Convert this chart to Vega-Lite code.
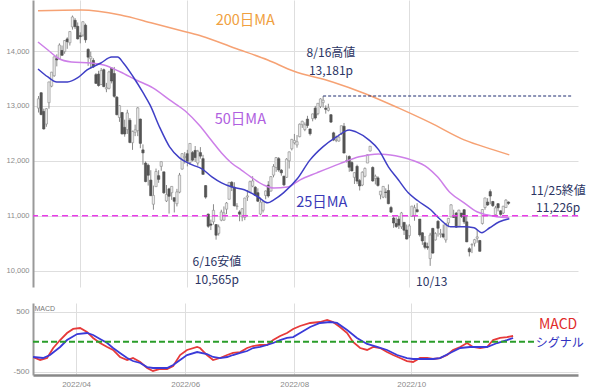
{
  "$schema": "https://vega.github.io/schema/vega-lite/v6.json",
  "padding": {"left": 6, "top": 0, "right": 0, "bottom": 0},
  "background": "white",
  "bounds": "flush",
  "spacing": 16,
  "config": {
    "view": {"stroke": null},
    "axis": {"labelFont": "Liberation Sans", "labelColor": "#8a8a8a", "gridColor": "#dedede", "gridWidth": 1, "ticks": false, "tickSize": 0, "domainColor": "#999999", "domainWidth": 2},
    "text": {"font": "Noto Sans CJK JP"}
  },
  "datasets": {
    "candles": [
      {"d":"2022-03-10","i":-16,"o":12960,"h":13180,"l":12880,"c":13130},
      {"d":"2022-03-11","i":-15,"o":13240,"h":13250,"l":12830,"c":12843},
      {"d":"2022-03-14","i":-14,"o":12900,"h":12950,"l":12570,"c":12581},
      {"d":"2022-03-15","i":-13,"o":12670,"h":12960,"l":12620,"c":12949},
      {"d":"2022-03-16","i":-12,"o":13060,"h":13440,"l":12950,"c":13437},
      {"d":"2022-03-17","i":-11,"o":13360,"h":13620,"l":13340,"c":13615},
      {"d":"2022-03-18","i":-10,"o":13550,"h":13900,"l":13530,"c":13894},
      {"d":"2022-03-21","i":-9,"o":13860,"h":13940,"l":13720,"c":13838},
      {"d":"2022-03-22","i":-8,"o":13860,"h":14140,"l":13850,"c":14109},
      {"d":"2022-03-23","i":-7,"o":14010,"h":14100,"l":13910,"c":13923},
      {"d":"2022-03-24","i":-6,"o":13990,"h":14200,"l":13950,"c":14191},
      {"d":"2022-03-25","i":-5,"o":14220,"h":14250,"l":14040,"c":14169},
      {"d":"2022-03-28","i":-4,"o":14150,"h":14360,"l":14100,"c":14354},
      {"d":"2022-03-29","i":-3,"o":14440,"h":14646,"l":14390,"c":14620},
      {"d":"2022-03-30","i":-2,"o":14560,"h":14600,"l":14400,"c":14443},
      {"d":"2022-03-31","i":-1,"o":14450,"h":14520,"l":14210,"c":14221},
      {"d":"2022-04-01","i":0,"o":14280,"h":14340,"l":14140,"c":14262},
      {"d":"2022-04-04","i":1,"o":14290,"h":14540,"l":14260,"c":14533},
      {"d":"2022-04-05","i":2,"o":14470,"h":14500,"l":14150,"c":14204},
      {"d":"2022-04-06","i":3,"o":14030,"h":14050,"l":13730,"c":13888},
      {"d":"2022-04-07","i":4,"o":13860,"h":13990,"l":13680,"c":13897},
      {"d":"2022-04-08","i":5,"o":13830,"h":13870,"l":13690,"c":13711},
      {"d":"2022-04-11","i":6,"o":13570,"h":13600,"l":13400,"c":13411},
      {"d":"2022-04-12","i":7,"o":13580,"h":13640,"l":13350,"c":13372},
      {"d":"2022-04-13","i":8,"o":13390,"h":13690,"l":13380,"c":13644},
      {"d":"2022-04-14","i":9,"o":13660,"h":13680,"l":13340,"c":13352},
      {"d":"2022-04-18","i":10,"o":13310,"h":13420,"l":13250,"c":13333},
      {"d":"2022-04-19","i":11,"o":13320,"h":13640,"l":13300,"c":13619},
      {"d":"2022-04-20","i":12,"o":13690,"h":13700,"l":13410,"c":13454},
      {"d":"2022-04-21","i":13,"o":13590,"h":13710,"l":13150,"c":13175},
      {"d":"2022-04-22","i":14,"o":13160,"h":13180,"l":12830,"c":12840},
      {"d":"2022-04-25","i":15,"o":12790,"h":13010,"l":12710,"c":13005},
      {"d":"2022-04-26","i":16,"o":12880,"h":12890,"l":12480,"c":12491},
      {"d":"2022-04-27","i":17,"o":12610,"h":12750,"l":12440,"c":12489},
      {"d":"2022-04-28","i":18,"o":12570,"h":12930,"l":12490,"c":12872},
      {"d":"2022-04-29","i":19,"o":12740,"h":12780,"l":12320,"c":12335},
      {"d":"2022-05-02","i":20,"o":12330,"h":12550,"l":12200,"c":12536},
      {"d":"2022-05-03","i":21,"o":12520,"h":12660,"l":12450,"c":12564},
      {"d":"2022-05-04","i":22,"o":12550,"h":12980,"l":12450,"c":12965},
      {"d":"2022-05-05","i":23,"o":12760,"h":12770,"l":12230,"c":12318},
      {"d":"2022-05-06","i":24,"o":12200,"h":12300,"l":11930,"c":12145},
      {"d":"2022-05-09","i":25,"o":11960,"h":11990,"l":11610,"c":11623},
      {"d":"2022-05-10","i":26,"o":11920,"h":11950,"l":11550,"c":11738},
      {"d":"2022-05-11","i":27,"o":11650,"h":11830,"l":11360,"c":11365},
      {"d":"2022-05-12","i":28,"o":11210,"h":11550,"l":11110,"c":11371},
      {"d":"2022-05-13","i":29,"o":11530,"h":11860,"l":11530,"c":11806},
      {"d":"2022-05-16","i":30,"o":11730,"h":11830,"l":11600,"c":11663},
      {"d":"2022-05-17","i":31,"o":11900,"h":11990,"l":11820,"c":11985},
      {"d":"2022-05-18","i":32,"o":11800,"h":11800,"l":11400,"c":11418},
      {"d":"2022-05-19","i":33,"o":11270,"h":11560,"l":11250,"c":11389},
      {"d":"2022-05-20","i":34,"o":11490,"h":11510,"l":11040,"c":11355},
      {"d":"2022-05-23","i":35,"o":11420,"h":11540,"l":11290,"c":11535},
      {"d":"2022-05-24","i":36,"o":11330,"h":11330,"l":11060,"c":11264},
      {"d":"2022-05-25","i":37,"o":11220,"h":11490,"l":11170,"c":11435},
      {"d":"2022-05-26","i":38,"o":11430,"h":11780,"l":11410,"c":11741},
      {"d":"2022-05-27","i":39,"o":11850,"h":12140,"l":11840,"c":12131},
      {"d":"2022-05-31","i":40,"o":12060,"h":12160,"l":11950,"c":12081},
      {"d":"2022-06-01","i":41,"o":12130,"h":12200,"l":11900,"c":11994},
      {"d":"2022-06-02","i":42,"o":11970,"h":12320,"l":11930,"c":12317},
      {"d":"2022-06-03","i":43,"o":12150,"h":12180,"l":11990,"c":12013},
      {"d":"2022-06-06","i":44,"o":12190,"h":12270,"l":11980,"c":12061},
      {"d":"2022-06-07","i":45,"o":11960,"h":12200,"l":11910,"c":12176},
      {"d":"2022-06-08","i":46,"o":12150,"h":12250,"l":12040,"c":12086},
      {"d":"2022-06-09","i":47,"o":12040,"h":12110,"l":11750,"c":11754},
      {"d":"2022-06-10","i":48,"o":11550,"h":11560,"l":11310,"c":11340},
      {"d":"2022-06-13","i":49,"o":11030,"h":11040,"l":10780,"c":10809},
      {"d":"2022-06-14","i":50,"o":10850,"h":10930,"l":10740,"c":10829},
      {"d":"2022-06-15","i":51,"o":10890,"h":11210,"l":10840,"c":11099},
      {"d":"2022-06-16","i":52,"o":10840,"h":10850,"l":10565,"c":10646},
      {"d":"2022-06-17","i":53,"o":10680,"h":10840,"l":10640,"c":10798},
      {"d":"2022-06-21","i":54,"o":10920,"h":11110,"l":10900,"c":11069},
      {"d":"2022-06-22","i":55,"o":10920,"h":11170,"l":10910,"c":11053},
      {"d":"2022-06-23","i":56,"o":11120,"h":11250,"l":11030,"c":11232},
      {"d":"2022-06-24","i":57,"o":11300,"h":11610,"l":11300,"c":11608},
      {"d":"2022-06-27","i":58,"o":11610,"h":11630,"l":11450,"c":11524},
      {"d":"2022-06-28","i":59,"o":11520,"h":11610,"l":11170,"c":11182},
      {"d":"2022-06-29","i":60,"o":11170,"h":11230,"l":11110,"c":11178},
      {"d":"2022-06-30","i":61,"o":11070,"h":11100,"l":10900,"c":11029},
      {"d":"2022-07-01","i":62,"o":10980,"h":11140,"l":10900,"c":11128},
      {"d":"2022-07-05","i":63,"o":10970,"h":11330,"l":10920,"c":11322},
      {"d":"2022-07-06","i":64,"o":11340,"h":11470,"l":11270,"c":11362},
      {"d":"2022-07-07","i":65,"o":11430,"h":11640,"l":11420,"c":11621},
      {"d":"2022-07-08","i":66,"o":11540,"h":11720,"l":11520,"c":11635},
      {"d":"2022-07-11","i":67,"o":11520,"h":11540,"l":11360,"c":11373},
      {"d":"2022-07-12","i":68,"o":11420,"h":11500,"l":11250,"c":11265},
      {"d":"2022-07-13","i":69,"o":11030,"h":11330,"l":11010,"c":11248},
      {"d":"2022-07-14","i":70,"o":11100,"h":11270,"l":11060,"c":11252},
      {"d":"2022-07-15","i":71,"o":11370,"h":11460,"l":11300,"c":11452},
      {"d":"2022-07-18","i":72,"o":11560,"h":11630,"l":11330,"c":11360},
      {"d":"2022-07-19","i":73,"o":11450,"h":11720,"l":11440,"c":11713},
      {"d":"2022-07-20","i":74,"o":11740,"h":11940,"l":11700,"c":11898},
      {"d":"2022-07-21","i":75,"o":11880,"h":12070,"l":11800,"c":12060},
      {"d":"2022-07-22","i":76,"o":12040,"h":12070,"l":11800,"c":11834},
      {"d":"2022-07-25","i":77,"o":11830,"h":11850,"l":11730,"c":11782},
      {"d":"2022-07-26","i":78,"o":11720,"h":11730,"l":11540,"c":11563},
      {"d":"2022-07-27","i":79,"o":11700,"h":12050,"l":11690,"c":12032},
      {"d":"2022-07-28","i":80,"o":12000,"h":12170,"l":11860,"c":12163},
      {"d":"2022-07-29","i":81,"o":12220,"h":12400,"l":12190,"c":12391},
      {"d":"2022-08-01","i":82,"o":12330,"h":12490,"l":12300,"c":12369},
      {"d":"2022-08-02","i":83,"o":12290,"h":12470,"l":12240,"c":12349},
      {"d":"2022-08-03","i":84,"o":12440,"h":12680,"l":12430,"c":12668},
      {"d":"2022-08-04","i":85,"o":12660,"h":12730,"l":12600,"c":12721},
      {"d":"2022-08-05","i":86,"o":12570,"h":12700,"l":12540,"c":12657},
      {"d":"2022-08-08","i":87,"o":12760,"h":12820,"l":12600,"c":12645},
      {"d":"2022-08-09","i":88,"o":12580,"h":12590,"l":12460,"c":12493},
      {"d":"2022-08-10","i":89,"o":12770,"h":12860,"l":12720,"c":12855},
      {"d":"2022-08-11","i":90,"o":12960,"h":13000,"l":12750,"c":12780},
      {"d":"2022-08-12","i":91,"o":12860,"h":13050,"l":12830,"c":13048},
      {"d":"2022-08-15","i":92,"o":12990,"h":13140,"l":12960,"c":13128},
      {"d":"2022-08-16","i":93,"o":13060,"h":13181,"l":12970,"c":13103},
      {"d":"2022-08-17","i":94,"o":12960,"h":13010,"l":12860,"c":12938},
      {"d":"2022-08-18","i":95,"o":12920,"h":13040,"l":12900,"c":12966},
      {"d":"2022-08-19","i":96,"o":12840,"h":12850,"l":12690,"c":12706},
      {"d":"2022-08-22","i":97,"o":12510,"h":12530,"l":12360,"c":12381},
      {"d":"2022-08-23","i":98,"o":12370,"h":12460,"l":12340,"c":12381},
      {"d":"2022-08-24","i":99,"o":12360,"h":12480,"l":12350,"c":12432},
      {"d":"2022-08-25","i":100,"o":12500,"h":12640,"l":12470,"c":12640},
      {"d":"2022-08-26","i":101,"o":12630,"h":12690,"l":12140,"c":12142},
      {"d":"2022-08-29","i":102,"o":12000,"h":12100,"l":11970,"c":11999},
      {"d":"2022-08-30","i":103,"o":12080,"h":12100,"l":11800,"c":11884},
      {"d":"2022-08-31","i":104,"o":11970,"h":12000,"l":11810,"c":11816},
      {"d":"2022-09-01","i":105,"o":11700,"h":11790,"l":11580,"c":11785},
      {"d":"2022-09-02","i":106,"o":11900,"h":11930,"l":11580,"c":11631},
      {"d":"2022-09-06","i":107,"o":11640,"h":11670,"l":11460,"c":11544},
      {"d":"2022-09-07","i":108,"o":11560,"h":11810,"l":11540,"c":11792},
      {"d":"2022-09-08","i":109,"o":11720,"h":11880,"l":11700,"c":11862},
      {"d":"2022-09-09","i":110,"o":11960,"h":12120,"l":11960,"c":12112},
      {"d":"2022-09-12","i":111,"o":12180,"h":12270,"l":12170,"c":12266},
      {"d":"2022-09-13","i":112,"o":11880,"h":11900,"l":11620,"c":11634},
      {"d":"2022-09-14","i":113,"o":11680,"h":11750,"l":11570,"c":11720},
      {"d":"2022-09-15","i":114,"o":11690,"h":11720,"l":11530,"c":11552},
      {"d":"2022-09-16","i":115,"o":11380,"h":11450,"l":11300,"c":11448},
      {"d":"2022-09-19","i":116,"o":11340,"h":11540,"l":11320,"c":11535},
      {"d":"2022-09-20","i":117,"o":11430,"h":11500,"l":11320,"c":11425},
      {"d":"2022-09-21","i":118,"o":11460,"h":11570,"l":11210,"c":11220},
      {"d":"2022-09-22","i":119,"o":11150,"h":11180,"l":11050,"c":11067},
      {"d":"2022-09-23","i":120,"o":10960,"h":10990,"l":10780,"c":10868},
      {"d":"2022-09-26","i":121,"o":10860,"h":10970,"l":10780,"c":10803},
      {"d":"2022-09-27","i":122,"o":10940,"h":11000,"l":10760,"c":10829},
      {"d":"2022-09-28","i":123,"o":10800,"h":11070,"l":10760,"c":11052},
      {"d":"2022-09-29","i":124,"o":10880,"h":10880,"l":10650,"c":10737},
      {"d":"2022-09-30","i":125,"o":10740,"h":10840,"l":10570,"c":10576},
      {"d":"2022-10-03","i":126,"o":10640,"h":10850,"l":10600,"c":10815},
      {"d":"2022-10-04","i":127,"o":10990,"h":11180,"l":10980,"c":11176},
      {"d":"2022-10-05","i":128,"o":11000,"h":11200,"l":10910,"c":11148},
      {"d":"2022-10-06","i":129,"o":11110,"h":11230,"l":11060,"c":11074},
      {"d":"2022-10-07","i":130,"o":10940,"h":10940,"l":10620,"c":10652},
      {"d":"2022-10-10","i":131,"o":10690,"h":10700,"l":10470,"c":10542},
      {"d":"2022-10-11","i":132,"o":10510,"h":10630,"l":10390,"c":10426},
      {"d":"2022-10-12","i":133,"o":10440,"h":10510,"l":10380,"c":10417},
      {"d":"2022-10-13","i":134,"o":10220,"h":10690,"l":10088,"c":10649},
      {"d":"2022-10-14","i":135,"o":10770,"h":10780,"l":10310,"c":10321},
      {"d":"2022-10-17","i":136,"o":10560,"h":10700,"l":10550,"c":10675},
      {"d":"2022-10-18","i":137,"o":10900,"h":10920,"l":10620,"c":10773},
      {"d":"2022-10-19","i":138,"o":10660,"h":10760,"l":10600,"c":10680},
      {"d":"2022-10-20","i":139,"o":10670,"h":10840,"l":10590,"c":10615},
      {"d":"2022-10-21","i":140,"o":10560,"h":10870,"l":10510,"c":10860},
      {"d":"2022-10-24","i":141,"o":10870,"h":10960,"l":10790,"c":10953},
      {"d":"2022-10-25","i":142,"o":10980,"h":11210,"l":10970,"c":11199},
      {"d":"2022-10-26","i":143,"o":10980,"h":11110,"l":10960,"c":10971},
      {"d":"2022-10-27","i":144,"o":11050,"h":11070,"l":10780,"c":10792},
      {"d":"2022-10-28","i":145,"o":10810,"h":11110,"l":10790,"c":11102},
      {"d":"2022-10-31","i":146,"o":11050,"h":11050,"l":10960,"c":10988},
      {"d":"2022-11-01","i":147,"o":11110,"h":11120,"l":10850,"c":10890},
      {"d":"2022-11-02","i":148,"o":10890,"h":11000,"l":10520,"c":10525},
      {"d":"2022-11-03","i":149,"o":10400,"h":10430,"l":10260,"c":10343},
      {"d":"2022-11-04","i":150,"o":10470,"h":10500,"l":10320,"c":10475},
      {"d":"2022-11-07","i":151,"o":10500,"h":10580,"l":10440,"c":10565},
      {"d":"2022-11-08","i":152,"o":10590,"h":10740,"l":10510,"c":10616},
      {"d":"2022-11-09","i":153,"o":10550,"h":10560,"l":10350,"c":10353},
      {"d":"2022-11-10","i":154,"o":10860,"h":11120,"l":10840,"c":11114},
      {"d":"2022-11-11","i":155,"o":11150,"h":11330,"l":11110,"c":11324},
      {"d":"2022-11-14","i":156,"o":11250,"h":11320,"l":11180,"c":11196},
      {"d":"2022-11-15","i":157,"o":11440,"h":11480,"l":11210,"c":11359},
      {"d":"2022-11-16","i":158,"o":11260,"h":11270,"l":11160,"c":11184},
      {"d":"2022-11-17","i":159,"o":11020,"h":11180,"l":11000,"c":11144},
      {"d":"2022-11-18","i":160,"o":11220,"h":11230,"l":11080,"c":11146},
      {"d":"2022-11-21","i":161,"o":11090,"h":11100,"l":11000,"c":11025},
      {"d":"2022-11-22","i":162,"o":11050,"h":11180,"l":11030,"c":11174},
      {"d":"2022-11-23","i":163,"o":11150,"h":11300,"l":11150,"c":11285},
      {"d":"2022-11-25","i":164,"o":11250,"h":11260,"l":11200,"c":11226}
    ],
    "ma": [
      {"s":"m200","i":-16.2,"v":14733},{"s":"m200","i":0.4,"v":14745},{"s":"m200","i":15.4,"v":14654},{"s":"m200","i":27.8,"v":14504},{"s":"m200","i":40.2,"v":14351},{"s":"m200","i":46.6,"v":14270},{"s":"m200","i":59.0,"v":14055},{"s":"m200","i":71.8,"v":13836},{"s":"m200","i":81.6,"v":13636},{"s":"m200","i":96.6,"v":13436},{"s":"m200","i":109.4,"v":13218},{"s":"m200","i":121.8,"v":12964},{"s":"m200","i":134.2,"v":12691},{"s":"m200","i":147.0,"v":12382},{"s":"m200","i":158.3,"v":12200},{"s":"m200","i":164.3,"v":12109},
      {"s":"m50","i":-16.2,"v":14164},{"s":"m50","i":-12.4,"v":14018},{"s":"m50","i":-8.6,"v":13873},{"s":"m50","i":-3.4,"v":13800},{"s":"m50","i":4.1,"v":13782},{"s":"m50","i":9.0,"v":13745},{"s":"m50","i":15.4,"v":13618},{"s":"m50","i":21.4,"v":13473},{"s":"m50","i":27.8,"v":13327},{"s":"m50","i":34.2,"v":13109},{"s":"m50","i":40.2,"v":12907},{"s":"m50","i":45.5,"v":12652},{"s":"m50","i":50.4,"v":12361},{"s":"m50","i":54.1,"v":12142},{"s":"m50","i":57.9,"v":11960},{"s":"m50","i":61.7,"v":11832},{"s":"m50","i":65.4,"v":11705},{"s":"m50","i":70.3,"v":11559},{"s":"m50","i":74.1,"v":11504},{"s":"m50","i":79.3,"v":11523},{"s":"m50","i":84.2,"v":11655},{"s":"m50","i":90.6,"v":11782},{"s":"m50","i":99.2,"v":11945},{"s":"m50","i":106.8,"v":12073},{"s":"m50","i":114.3,"v":12127},{"s":"m50","i":120.7,"v":12091},{"s":"m50","i":126.7,"v":12018},{"s":"m50","i":133.1,"v":11873},{"s":"m50","i":136.8,"v":11709},{"s":"m50","i":141.7,"v":11418},{"s":"m50","i":147.0,"v":11236},{"s":"m50","i":151.9,"v":11073},{"s":"m50","i":155.6,"v":11018},{"s":"m50","i":159.4,"v":10982},{"s":"m50","i":164.3,"v":10964},
      {"s":"m25","i":-16.2,"v":13673},{"s":"m25","i":-12.4,"v":13527},{"s":"m25","i":-9.0,"v":13436},{"s":"m25","i":-4.9,"v":13436},{"s":"m25","i":-1.1,"v":13509},{"s":"m25","i":2.6,"v":13655},{"s":"m25","i":7.9,"v":13782},{"s":"m25","i":12.0,"v":13891},{"s":"m25","i":14.3,"v":13891},{"s":"m25","i":16.5,"v":13782},{"s":"m25","i":20.3,"v":13527},{"s":"m25","i":24.1,"v":13236},{"s":"m25","i":26.7,"v":13018},{"s":"m25","i":30.5,"v":12600},{"s":"m25","i":34.2,"v":12255},{"s":"m25","i":38.0,"v":12055},{"s":"m25","i":42.9,"v":11927},{"s":"m25","i":46.6,"v":11855},{"s":"m25","i":50.4,"v":11709},{"s":"m25","i":54.1,"v":11600},{"s":"m25","i":57.9,"v":11527},{"s":"m25","i":62.8,"v":11473},{"s":"m25","i":68.0,"v":11346},{"s":"m25","i":71.8,"v":11236},{"s":"m25","i":74.1,"v":11291},{"s":"m25","i":77.8,"v":11418},{"s":"m25","i":83.1,"v":11673},{"s":"m25","i":88.0,"v":12018},{"s":"m25","i":92.9,"v":12255},{"s":"m25","i":98.1,"v":12436},{"s":"m25","i":103.0,"v":12564},{"s":"m25","i":105.6,"v":12527},{"s":"m25","i":110.5,"v":12382},{"s":"m25","i":114.3,"v":12200},{"s":"m25","i":118.0,"v":11891},{"s":"m25","i":121.8,"v":11655},{"s":"m25","i":125.6,"v":11418},{"s":"m25","i":129.3,"v":11273},{"s":"m25","i":134.2,"v":11109},{"s":"m25","i":138.0,"v":10927},{"s":"m25","i":141.7,"v":10800},{"s":"m25","i":147.0,"v":10800},{"s":"m25","i":150.8,"v":10782},{"s":"m25","i":153.8,"v":10691},{"s":"m25","i":156.8,"v":10782},{"s":"m25","i":160.5,"v":10891},{"s":"m25","i":164.3,"v":10946}
    ],
    "malabels": [
      {"t":"200日MA","i":63.2,"v":14546},
      {"t":"50日MA","i":61.3,"v":12743},
      {"t":"25日MA","i":92.5,"v":11231}
    ],
    "notes": [
      {"t":"8/16高値\n13,181p","i":96.0,"v":13964},
      {"t":"6/16安値\n10,565p","i":52.3,"v":10152},
      {"t":"10/13","i":134.6,"v":9792},
      {"t":"11/25終値\n11,226p","i":183.0,"v":11459}
    ],
    "macd": [
      {"i":-16.2,"v":-255},{"i":-13.5,"v":-305},{"i":-10.9,"v":-272},{"i":-8.6,"v":-105},{"i":-6.0,"v":28},{"i":-3.4,"v":145},{"i":-1.1,"v":212},{"i":1.5,"v":228},{"i":4.1,"v":162},{"i":6.4,"v":62},{"i":9.0,"v":-22},{"i":11.7,"v":-88},{"i":13.9,"v":-138},{"i":16.5,"v":-255},{"i":19.2,"v":-305},{"i":21.4,"v":-272},{"i":24.1,"v":-338},{"i":26.7,"v":-438},{"i":28.9,"v":-488},{"i":31.6,"v":-455},{"i":34.2,"v":-455},{"i":36.5,"v":-405},{"i":39.1,"v":-222},{"i":41.7,"v":-138},{"i":45.5,"v":-88},{"i":46.6,"v":-105},{"i":49.2,"v":-222},{"i":51.5,"v":-305},{"i":54.1,"v":-272},{"i":56.8,"v":-222},{"i":59.0,"v":-188},{"i":61.7,"v":-172},{"i":64.3,"v":-105},{"i":66.5,"v":-72},{"i":69.2,"v":-55},{"i":71.8,"v":-55},{"i":74.1,"v":28},{"i":76.7,"v":95},{"i":79.3,"v":145},{"i":81.6,"v":212},{"i":84.2,"v":262},{"i":88.0,"v":312},{"i":91.7,"v":328},{"i":94.4,"v":362},{"i":96.6,"v":328},{"i":99.2,"v":245},{"i":101.9,"v":145},{"i":104.1,"v":-5},{"i":106.8,"v":-105},{"i":109.4,"v":-138},{"i":111.7,"v":-88},{"i":114.3,"v":-105},{"i":116.9,"v":-172},{"i":119.2,"v":-222},{"i":121.8,"v":-272},{"i":124.4,"v":-322},{"i":126.7,"v":-338},{"i":129.3,"v":-272},{"i":132.0,"v":-272},{"i":134.2,"v":-288},{"i":136.8,"v":-272},{"i":139.5,"v":-222},{"i":141.7,"v":-138},{"i":144.4,"v":-88},{"i":147.0,"v":-22},{"i":149.2,"v":-88},{"i":151.9,"v":-105},{"i":154.5,"v":-88},{"i":156.8,"v":28},{"i":159.4,"v":62},{"i":162.0,"v":78},{"i":164.3,"v":95}
    ],
    "signal": [
      {"i":-16.2,"v":-255},{"i":-12.4,"v":-272},{"i":-9.8,"v":-222},{"i":-6.0,"v":-88},{"i":-3.4,"v":28},{"i":0.4,"v":128},{"i":4.1,"v":145},{"i":6.4,"v":112},{"i":9.0,"v":45},{"i":11.7,"v":-22},{"i":13.9,"v":-105},{"i":16.5,"v":-188},{"i":19.2,"v":-272},{"i":21.4,"v":-322},{"i":24.1,"v":-355},{"i":26.7,"v":-422},{"i":28.9,"v":-438},{"i":31.6,"v":-438},{"i":34.2,"v":-438},{"i":36.5,"v":-388},{"i":39.1,"v":-305},{"i":41.7,"v":-222},{"i":45.5,"v":-172},{"i":49.2,"v":-205},{"i":51.5,"v":-255},{"i":54.1,"v":-272},{"i":56.8,"v":-255},{"i":59.0,"v":-222},{"i":61.7,"v":-188},{"i":64.3,"v":-155},{"i":66.5,"v":-105},{"i":69.2,"v":-88},{"i":71.8,"v":-55},{"i":74.1,"v":-22},{"i":76.7,"v":28},{"i":79.3,"v":62},{"i":81.6,"v":78},{"i":84.2,"v":145},{"i":88.0,"v":245},{"i":91.7,"v":312},{"i":95.5,"v":328},{"i":98.1,"v":312},{"i":101.9,"v":195},{"i":105.6,"v":62},{"i":109.4,"v":-38},{"i":113.2,"v":-88},{"i":116.9,"v":-138},{"i":120.7,"v":-222},{"i":124.4,"v":-272},{"i":126.7,"v":-288},{"i":130.5,"v":-288},{"i":134.2,"v":-288},{"i":136.8,"v":-272},{"i":140.6,"v":-188},{"i":144.4,"v":-105},{"i":148.1,"v":-88},{"i":151.9,"v":-88},{"i":154.5,"v":-88},{"i":158.3,"v":-22},{"i":162.0,"v":28},{"i":164.3,"v":62}
    ],
    "osclabels": [
      {"t":"MACD","i":181.2,"v":278},
      {"t":"シグナル","i":181.8,"v":-22}
    ]
  },
  "vconcat": [
    {
      "width": 545,
      "height": 287,
      "resolve": {"scale": {"color": "independent"}},
      "layer": [
        {
          "data": {"name": "candles"},
          "mark": {"type": "rule", "clip": true, "color": "#8a8a8a", "strokeWidth": 1},
          "encoding": {
            "x": {"field": "i", "type": "quantitative", "title": null, "scale": {"domain": [-16.2, 188.7], "nice": false, "zero": false},
                  "axis": {"values": [0, 41, 82, 126], "labels": false, "domain": false, "title": null, "grid": true}},
            "y": {"field": "l", "type": "quantitative", "title": null, "scale": {"domain": [9703, 14929], "nice": false, "zero": false},
                  "axis": {"values": [10000, 11000, 12000, 13000, 14000], "format": ",d", "labelFontSize": 7.5, "labelPadding": 4, "title": null, "grid": true}},
            "y2": {"field": "h"}
          }
        },
        {
          "data": {"name": "candles"},
          "mark": {"type": "bar", "clip": true, "size": 2.3, "strokeWidth": 0.6},
          "encoding": {
            "x": {"field": "i", "type": "quantitative", "title": null},
            "y": {"field": "o", "type": "quantitative", "title": null},
            "y2": {"field": "c"},
            "fill": {"condition": {"test": "datum.c >= datum.o", "value": "#eaeaea"}, "value": "#555555"},
            "stroke": {"condition": {"test": "datum.c >= datum.o", "value": "#8c8c8c"}, "value": "#4d4d4d"}
          }
        },
        {
          "data": {"name": "ma"},
          "mark": {"type": "line", "clip": true, "interpolate": "monotone"},
          "encoding": {
            "x": {"field": "i", "type": "quantitative", "title": null},
            "y": {"field": "v", "type": "quantitative", "title": null},
            "color": {"field": "s", "type": "nominal", "scale": {"domain": ["m200", "m50", "m25"], "range": ["#f6a274", "#cd7fe8", "#3f3fc6"]}, "legend": null},
            "strokeWidth": {"field": "s", "type": "nominal", "scale": {"domain": ["m200", "m50", "m25"], "range": [1.5, 1.5, 2]}, "legend": null}
          }
        },
        {
          "data": {"values": [{}]},
          "mark": {"type": "rule", "color": "#e83ce8", "strokeDash": [6, 4], "strokeWidth": 1.6},
          "encoding": {"y": {"datum": 11000}}
        },
        {
          "data": {"values": [{}]},
          "mark": {"type": "rule", "color": "#1f2d70", "strokeDash": [3, 2], "strokeWidth": 1.2},
          "encoding": {"x": {"datum": 93}, "x2": {"datum": 188.7}, "y": {"datum": 13181}}
        },
        {
          "data": {"name": "malabels"},
          "mark": {"type": "text", "font": "Noto Sans CJK JP", "fontSize": 14.5, "align": "center", "baseline": "middle"},
          "encoding": {
            "x": {"field": "i", "type": "quantitative", "title": null},
            "y": {"field": "v", "type": "quantitative", "title": null},
            "text": {"field": "t"},
            "color": {"field": "t", "type": "nominal", "scale": {"domain": ["200日MA", "50日MA", "25日MA"], "range": ["#f0a040", "#b060e0", "#3a3ab8"]}, "legend": null}
          }
        },
        {
          "data": {"name": "notes"},
          "mark": {"type": "text", "font": "Noto Sans CJK JP", "fontSize": 12, "align": "center", "baseline": "middle", "color": "#2b3463", "lineBreak": "\n", "lineHeight": 17.6},
          "encoding": {
            "x": {"field": "i", "type": "quantitative", "title": null},
            "y": {"field": "v", "type": "quantitative", "title": null},
            "text": {"field": "t"}
          }
        }
      ]
    },
    {
      "width": 545,
      "height": 72,
      "layer": [
        {
          "data": {"name": "macd"},
          "mark": {"type": "line", "clip": true, "color": "#e63a3a", "strokeWidth": 1.8},
          "encoding": {
            "x": {"field": "i", "type": "quantitative", "scale": {"domain": [-16.2, 188.7], "nice": false, "zero": false},
                  "axis": {"values": [0, 41, 82, 126], "labelExpr": "datum.value == 0 ? '2022/04' : datum.value == 41 ? '2022/06' : datum.value == 82 ? '2022/08' : '2022/10'", "labelFontSize": 8, "labelPadding": 5, "domainColor": "#888888", "domainWidth": 2.5, "title": null, "grid": true}},
            "y": {"field": "v", "type": "quantitative", "scale": {"domain": [-555, 645], "nice": false, "zero": false},
                  "axis": {"values": [-500, 0, 500], "labelExpr": "'' + datum.value", "labelFontSize": 8, "labelPadding": 4, "grid": true, "title": "MACD", "titleX": 1, "titleY": 5, "titleAngle": 0, "titleAlign": "left", "titleBaseline": "middle", "titleFontSize": 7, "titleFontWeight": "normal", "titleColor": "#777777", "titleFont": "Liberation Sans"}}
          }
        },
        {
          "data": {"name": "signal"},
          "mark": {"type": "line", "clip": true, "color": "#3a3ad8", "strokeWidth": 1.8},
          "encoding": {
            "x": {"field": "i", "type": "quantitative"},
            "y": {"field": "v", "type": "quantitative"}
          }
        },
        {
          "data": {"values": [{}]},
          "mark": {"type": "rule", "color": "#2a9d2a", "strokeDash": [6, 3], "strokeWidth": 2},
          "encoding": {"x": {"datum": -16.2}, "x2": {"datum": 172.5}, "y": {"datum": 0}}
        },
        {
          "data": {"name": "osclabels"},
          "mark": {"type": "text", "font": "Noto Sans CJK JP", "align": "center", "baseline": "middle"},
          "encoding": {
            "x": {"field": "i", "type": "quantitative"},
            "y": {"field": "v", "type": "quantitative"},
            "text": {"field": "t"},
            "color": {"field": "t", "type": "nominal", "scale": {"domain": ["MACD", "シグナル"], "range": ["#e02a2a", "#3030c0"]}, "legend": null},
            "size": {"field": "t", "type": "nominal", "scale": {"domain": ["MACD", "シグナル"], "range": [14, 12]}, "legend": null}
          }
        }
      ]
    }
  ]
}
